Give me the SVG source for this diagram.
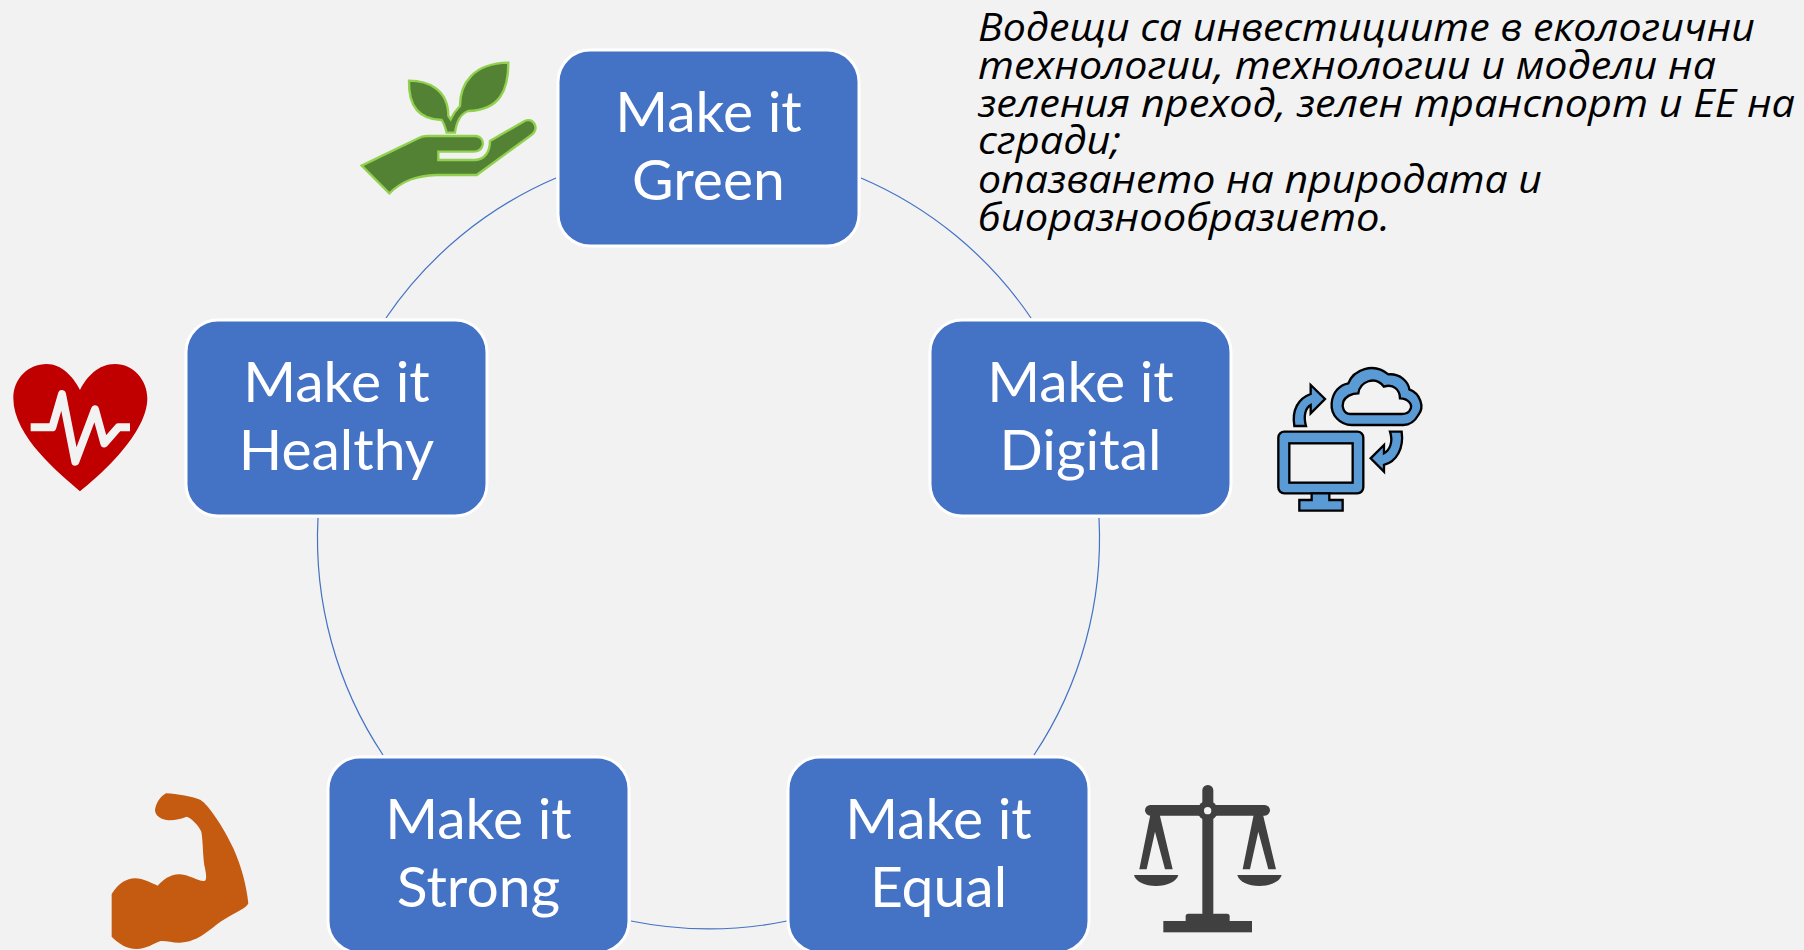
<svg xmlns="http://www.w3.org/2000/svg" width="1804" height="950" viewBox="0 0 1804 950">
<style>
.box{fill:#4472C4;stroke:#fff;stroke-width:3}
.lbl{font-family:"Lato","Open Sans",sans-serif;font-size:57px;fill:#fff;text-anchor:middle}
.note{font-family:"Open Sans","Noto Sans",sans-serif;font-style:italic;font-size:38px;fill:#000}
.arc{fill:none;stroke:#4472C4;stroke-width:1.2}
</style>
<rect width="1804" height="950" fill="#F2F2F2"/>
<g id="connectors">
<path class="arc" d="M861 178A391 391 0 0 1 1031 318"/>
<path class="arc" d="M1099 518A391 391 0 0 1 1034 755"/>
<path class="arc" d="M787 921A391 391 0 0 1 631 921"/>
<path class="arc" d="M383 755A391 391 0 0 1 318 518"/>
<path class="arc" d="M386 318A391 391 0 0 1 556 178"/>
</g>
<g id="node-green"><rect class="box" x="558" y="50" width="301" height="196" rx="32"/><text class="lbl" x="708.500" y="132">Make it</text><text class="lbl" x="708.500" y="200">Green</text></g>
<g id="node-digital"><rect class="box" x="930" y="320" width="301" height="196" rx="32"/><text class="lbl" x="1080.500" y="402">Make it</text><text class="lbl" x="1080.500" y="470">Digital</text></g>
<g id="node-equal"><rect class="box" x="788" y="757" width="301" height="196" rx="32"/><text class="lbl" x="938.500" y="839">Make it</text><text class="lbl" x="938.500" y="907">Equal</text></g>
<g id="node-strong"><rect class="box" x="328" y="757" width="301" height="196" rx="32"/><text class="lbl" x="478.500" y="839">Make it</text><text class="lbl" x="478.500" y="907">Strong</text></g>
<g id="node-healthy"><rect class="box" x="186" y="320" width="301" height="196" rx="32"/><text class="lbl" x="336.500" y="402">Make it</text><text class="lbl" x="336.500" y="470">Healthy</text></g>
<g id="icon-plant" transform="translate(340 30) scale(.3333)" fill="#548235" stroke="#92D050" stroke-width="7">
<path d="M65 407L235 325Q245 318 260 318L405 318C425 318 430 335 428 345C425 358 415 365 400 365L295 365L295 390L405 390C435 388 450 365 450 333L550 275C565 265 580 272 585 285C590 298 582 310 570 318L410 435L290 435C230 438 190 450 148 490Z"/>
<path d="M207 152C260 152 325 175 325 258L332 268C340 250 348 240 360 228C360 160 400 100 505 98C505 180 480 240 385 243C365 250 350 270 345 308L320 308C315 290 310 275 305 270C240 268 205 230 207 152Z"/>
</g>
<g id="icon-digital" transform="translate(1260 350) scale(.3333)" fill="#5B9BD5" stroke="#000" stroke-width="7">
<rect x="55" y="245" width="255" height="185" rx="18"/>
<rect x="88" y="280" width="190" height="118" fill="#F2F2F2"/>
<path d="M155 430L155 450L118 450L118 482L248 482L248 450L208 450L208 430Z"/>
<path fill-rule="evenodd" d="M265 100C280 60 340 35 385 73C420 70 445 95 448 118C480 130 495 170 475 195C460 222 440 225 430 225L275 225C240 225 212 195 215 160C218 125 240 105 265 100ZM295 130C300 95 345 75 372 110C400 100 420 120 420 145C445 145 460 165 450 180C445 190 435 192 425 192L270 192C250 190 245 170 250 155C255 140 275 130 295 130Z"/>
<path d="M103 228C95 180 115 145 152 132L152 105L195 147L152 190L152 165C135 175 130 200 138 228Z"/>
<path d="M425 245C432 295 410 335 372 345L372 365L332 325L372 285L372 310C390 300 400 275 390 245Z"/>
</g>
<g id="icon-scales" transform="translate(1120 770) scale(.3333)" fill="#404040">
<rect x="247" y="45" width="33" height="400" rx="16"/>
<rect x="75" y="105" width="375" height="32" rx="16"/>
<circle cx="263" cy="122" r="30"/><circle cx="263" cy="122" r="11" fill="#F2F2F2"/>
<rect x="130" y="453" width="266" height="34"/>
<rect x="197" y="431" width="132" height="30" rx="8"/>
<path d="M92 130L58 298L80 298L105 185L135 298L158 298L118 130Z"/>
<path d="M402 130L368 298L390 298L415 185L445 298L468 298L428 130Z"/>
<path d="M42 315L175 315C170 335 140 348 108 348C75 348 47 335 42 315Z"/>
<path d="M352 315L485 315C480 335 450 348 418 348C385 348 357 335 352 315Z"/>
</g>
<g id="icon-muscle" transform="translate(90 780) scale(.3333)" fill="#C55A11">
<path d="M65 342C85 310 110 295 135 295C160 295 185 310 203 317C220 300 240 282 270 283C300 285 325 305 343 303C352 302 348 280 345 265C338 235 340 190 334 155C325 135 305 115 290 110C270 118 250 122 230 120C210 118 195 105 195 90C198 70 210 50 228 40C260 42 310 50 332 60C355 75 400 140 430 205C455 260 470 320 475 370C470 385 440 395 400 420C360 445 330 485 270 488C250 489 230 482 212 483C190 490 170 507 140 507C110 507 85 490 65 470Z"/>
</g>
<g id="icon-heart" transform="translate(0 350) scale(.3333)">
<path fill="#C00000" d="M240 424C180 372 40 260 40 145C40 85 85 42 140 42C185 42 220 80 240 120C260 80 295 42 345 42C400 42 442 90 442 145C442 250 300 377 240 424Z"/>
<path fill="none" stroke="#F2F2F2" stroke-width="24" stroke-linejoin="round" d="M92 232L157 232L186 132L226 335L285 178L313 280L355 232L390 232"/>
</g>
<g id="note">
<text class="note" x="978" y="41" textLength="777" lengthAdjust="spacingAndGlyphs">Водещи са инвестициите в екологични</text>
<text class="note" x="978" y="79" textLength="738" lengthAdjust="spacingAndGlyphs">технологии, технологии и модели на</text>
<text class="note" x="978" y="117" textLength="817" lengthAdjust="spacingAndGlyphs">зеления преход, зелен транспорт и ЕЕ на</text>
<text class="note" x="978" y="154" textLength="143" lengthAdjust="spacingAndGlyphs">сгради;</text>
<text class="note" x="978" y="193" textLength="564" lengthAdjust="spacingAndGlyphs">опазването на природата и</text>
<text class="note" x="978" y="231" textLength="412" lengthAdjust="spacingAndGlyphs">биоразнообразието.</text>
</g>
</svg>
